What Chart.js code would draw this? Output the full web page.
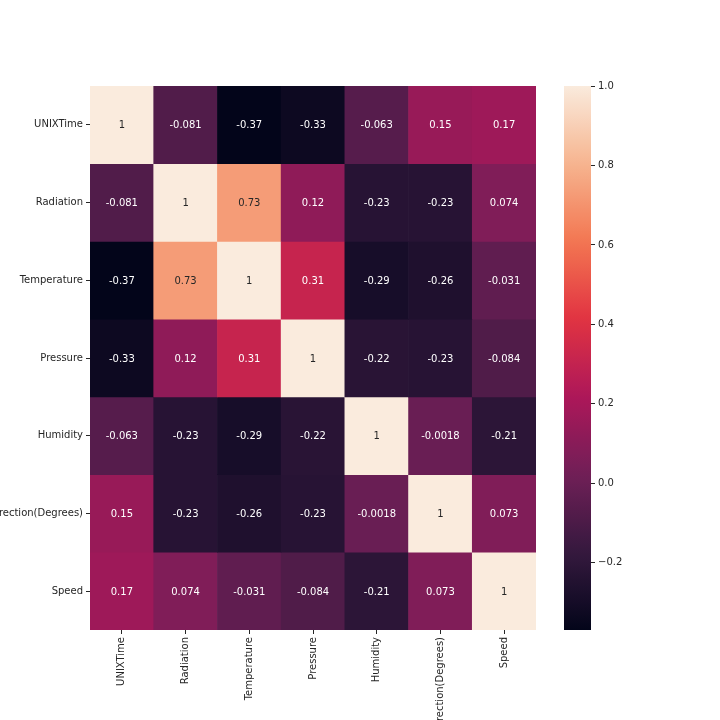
<!DOCTYPE html>
<html>
<head>
<meta charset="utf-8">
<script src="https://cdn.jsdelivr.net/npm/chart.js@4"></script>
<style>
html,body{margin:0;padding:0;background:#fff;}
#wrap{position:relative;width:720px;height:720px;}
#wrap canvas{position:absolute;left:0;top:0;}
</style>
</head>
<body>
<div id="wrap">
<canvas id="main" width="720" height="720"></canvas>
<canvas id="cbar" width="720" height="720"></canvas>
</div>
<script>
const variables = ["UNIXTime","Radiation","Temperature","Pressure","Humidity","WindDirection(Degrees)","Speed"];
const rowUNIXTime    = [1, -0.081, -0.37, -0.33, -0.063, 0.15, 0.17];
const rowRadiation   = [-0.081, 1, 0.73, 0.12, -0.23, -0.23, 0.074];
const rowTemperature = [-0.37, 0.73, 1, 0.31, -0.29, -0.26, -0.031];
const rowPressure    = [-0.33, 0.12, 0.31, 1, -0.22, -0.23, -0.084];
const rowHumidity    = [-0.063, -0.23, -0.29, -0.22, 1, -0.0018, -0.21];
const rowWindDir     = [0.15, -0.23, -0.26, -0.23, -0.0018, 1, 0.073];
const rowSpeed       = [0.17, 0.074, -0.031, -0.084, -0.21, 0.073, 1];
const colorbarTicks  = [-0.2, 0.0, 0.2, 0.4, 0.6, 0.8, 1.0];
const vmin = -0.369, vmax = 1.0;

const rows = [rowUNIXTime,rowRadiation,rowTemperature,rowPressure,rowHumidity,rowWindDir,rowSpeed];

// rocket colormap stops
const rocketStops = [
  [0.0, "#03051a"],[1/7, "#35193e"],[2/7, "#701f57"],[3/7, "#ad1759"],
  [4/7, "#e13342"],[5/7, "#f37651"],[6/7, "#f6b48f"],[1.0, "#faebdd"]
];
function hex2rgb(h){return [parseInt(h.substr(1,2),16),parseInt(h.substr(3,2),16),parseInt(h.substr(5,2),16)];}
function rocket(t){
  t = Math.max(0, Math.min(1, t));
  for (let i=0;i<rocketStops.length-1;i++){
    const [t0,c0]=rocketStops[i],[t1,c1]=rocketStops[i+1];
    if (t<=t1){
      const f=(t-t0)/(t1-t0), a=hex2rgb(c0), b=hex2rgb(c1);
      return [0,1,2].map(k=>Math.round(a[k]+(b[k]-a[k])*f));
    }
  }
  return hex2rgb(rocketStops[rocketStops.length-1][1]);
}
function colorFor(v){const c=rocket((v-vmin)/(vmax-vmin));return `rgb(${c[0]},${c[1]},${c[2]})`;}
function isLight(v){const c=rocket((v-vmin)/(vmax-vmin));const lum=(0.2126*c[0]+0.7152*c[1]+0.0722*c[2])/255;return lum>0.408;}

const FONT = {family:"'DejaVu Sans', sans-serif", size:10};
const TXT = "#262626";

const datasets = rows.map((r,i)=>({
  label: variables[i],
  data: r.map(()=>[i, i+1]),
  backgroundColor: r.map(colorFor),
  borderWidth: 0,
  barPercentage: 1.0,
  categoryPercentage: 1.0,
  grouped: false
}));

const annot = {
  id:'annot',
  afterDatasetsDraw(chart){
    const ctx=chart.ctx, xs=chart.scales.x, ys=chart.scales.y;
    ctx.save();
    ctx.font = "10px 'DejaVu Sans', sans-serif";
    ctx.textAlign='center'; ctx.textBaseline='middle';
    rows.forEach((r,i)=>{
      r.forEach((v,j)=>{
        ctx.fillStyle = isLight(v) ? TXT : '#ffffff';
        ctx.fillText(String(v), xs.getPixelForValue(j), ys.getPixelForValue(i+0.5)+1);
      });
    });
    ctx.restore();
  }
};

new Chart(document.getElementById('main'), {
  type:'bar',
  data:{labels:variables, datasets},
  options:{
    responsive:false, animation:false,
    layout:{padding:{left:0,right:184,top:86,bottom:0}},
    plugins:{legend:{display:false},tooltip:{enabled:false}},
    scales:{
      x:{
        type:'category',
        stacked:false,
        grid:{display:true,drawOnChartArea:false,drawTicks:true,tickLength:4,color:TXT,offset:false},
        border:{display:false},
        ticks:{font:FONT,color:TXT,minRotation:90,maxRotation:90,autoSkip:false,padding:3},
        afterFit(s){s.height=90;}
      },
      y:{
        type:'linear', min:0, max:7, reverse:true,
        grid:{display:true,drawOnChartArea:false,drawTicks:true,tickLength:4,color:TXT},
        border:{display:false},
        afterBuildTicks(axis){axis.ticks = variables.map((_,i)=>({value:i+0.5}));},
        ticks:{font:FONT,color:TXT,padding:3,autoSkip:false,
          callback:(v)=>variables[Math.round(v-0.5)]},
        afterFit(s){s.width=90;}
      }
    }
  },
  plugins:[annot]
});

// colorbar
new Chart(document.getElementById('cbar'), {
  type:'bar',
  data:{labels:['cb'], datasets:[{
    data:[[vmin, vmax]],
    borderWidth:0, barPercentage:1.0, categoryPercentage:1.0,
    backgroundColor(ctx){
      const ca=ctx.chart.chartArea; if(!ca) return '#888';
      const g=ctx.chart.ctx.createLinearGradient(0,ca.bottom,0,ca.top);
      for(let k=0;k<=40;k++){const c=rocket(k/40);g.addColorStop(k/40, `rgb(${c[0]},${c[1]},${c[2]})`);}
      return g;
    }
  }]},
  options:{
    responsive:false, animation:false,
    layout:{padding:{left:564,right:89,top:86,bottom:90}},
    plugins:{legend:{display:false},tooltip:{enabled:false}},
    scales:{
      x:{display:false},
      y:{
        type:'linear', position:'right', min:vmin, max:vmax,
        grid:{display:true,drawOnChartArea:false,drawTicks:true,tickLength:4,color:TXT},
        border:{display:false},
        afterBuildTicks(axis){axis.ticks = colorbarTicks.map(v=>({value:v}));},
        ticks:{font:FONT,color:TXT,padding:3,
          callback:(v)=>(v< -1e-9?'\u2212':'')+Math.abs(v).toFixed(1)},
        afterFit(s){s.width=40;}
      }
    }
  }
});
</script>
</body>
</html>
